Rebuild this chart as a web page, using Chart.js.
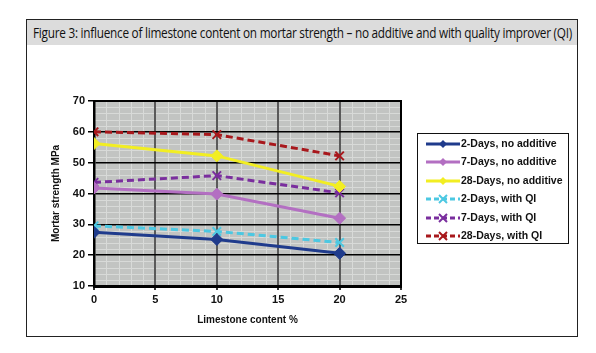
<!DOCTYPE html>
<html><head><meta charset="utf-8">
<script src="https://cdn.jsdelivr.net/npm/chart.js@4.4.1/dist/chart.umd.min.js"></script>
<style>
html,body{margin:0;padding:0;background:#fff;width:596px;height:353px;overflow:hidden}
#wrap{position:relative;width:596px;height:353px}
#c{position:absolute;left:0;top:0}
#frame{position:absolute;left:26px;top:19px;width:552px;height:318px;border:1.5px solid #222;box-sizing:border-box;pointer-events:none}
#title{position:absolute;left:0;top:0;right:0;height:25px;background:#dcdcdc;overflow:visible;white-space:nowrap}
#title span{position:absolute;left:6px;top:3px;font-family:"Open Sans","Liberation Sans",sans-serif;font-size:14px;font-weight:500;color:#111;transform-origin:0 50%;letter-spacing:-0.3px}
#legend{position:absolute;left:417px;top:133px;width:152px;height:111px;border:1px solid #111;box-sizing:border-box;padding-top:1px}
.row{position:relative;height:18.4px}
.row svg{position:absolute;left:8px;top:4px}
.row span{position:absolute;left:43px;top:2px;font-family:"Liberation Sans",Arial,sans-serif;font-weight:bold;font-size:10.5px;color:#111;white-space:nowrap}
</style></head>
<body><div id="wrap">
<canvas id="c" width="596" height="353"></canvas>
<div id="frame"><div id="title"><span id="tt">Figure 3: influence of limestone content on mortar strength – no additive and with quality improver (QI)</span></div></div>
<div id="legend"></div>
</div>
<script>
// Data
const limestone = [0, 10, 20];
const seriesNames = ["2-Days, no additive","7-Days, no additive","28-Days, no additive","2-Days, with QI","7-Days, with QI","28-Days, with QI"];
const days2NoAdd  = [27.4, 25.1, 20.6];
const days7NoAdd  = [41.8, 39.8, 32.0];
const days28NoAdd = [56.2, 52.2, 42.3];
const days2QI     = [29.5, 27.7, 24.1];
const days7QI     = [43.6, 45.8, 40.2];
const days28QI    = [60.0, 59.1, 52.2];
const xTickLabels = [0, 5, 10, 15, 20, 25];
const yTickLabels = [10, 20, 30, 40, 50, 60, 70];

const seriesValues = [days2NoAdd, days7NoAdd, days28NoAdd, days2QI, days7QI, days28QI];
const colors = ["#1f3b8c", "#b36fc2", "#f2ee22", "#4cc8e2", "#7a2e9e", "#a8181c"];
const dashed = [false, false, false, true, true, true];

const datasets = seriesNames.map((name, i) => ({
  label: name,
  data: limestone.map((x, j) => ({x: x, y: seriesValues[i][j]})),
  borderColor: colors[i],
  backgroundColor: colors[i],
  borderWidth: 3,
  borderDash: dashed[i] ? [7, 4] : [],
  pointStyle: dashed[i] ? 'crossRot' : 'rectRot',
  pointRadius: 6,
  pointBorderWidth: dashed[i] ? 2 : 1,
  pointHoverRadius: 6,
  tension: 0,
  fill: false
}));

// background and fine (minor) grid, drawn through the library's scales
const bgPlugin = {
  id: 'bg',
  beforeDraw(chart) {
    const {ctx, chartArea: a, scales} = chart;
    ctx.save();
    ctx.fillStyle = '#c2c4c2';
    ctx.fillRect(a.left, a.top, a.right - a.left, a.bottom - a.top);
    ctx.strokeStyle = '#d8dad8';
    ctx.lineWidth = 1;
    ctx.beginPath();
    for (let v = 1; v < 25; v++) {
      if (v % 5 === 0) continue;
      const x = Math.round(scales.x.getPixelForValue(v)) + 0.5;
      ctx.moveTo(x, a.top); ctx.lineTo(x, a.bottom);
    }
    for (let v = 12; v < 70; v += 2) {
      if (v % 10 === 0) continue;
      const y = Math.round(scales.y.getPixelForValue(v)) + 0.5;
      ctx.moveTo(a.left, y); ctx.lineTo(a.right, y);
    }
    ctx.stroke();
    ctx.restore();
  }
};
const plotBorder = {
  id: 'pb',
  beforeDatasetsDraw(chart) {
    const {ctx, chartArea: a} = chart;
    ctx.save();
    ctx.strokeStyle = '#000';
    ctx.lineWidth = 2;
    ctx.beginPath();
    ctx.moveTo(a.left, a.top); ctx.lineTo(a.right, a.top); ctx.lineTo(a.right, a.bottom);
    ctx.stroke();
    ctx.restore();
  }
};

const tickFont = {family: '"Liberation Sans",Arial', size: 11, weight: 'bold'};
const titleFont = {family: '"Liberation Sans",Arial', size: 10, weight: 'bold'};

new Chart(document.getElementById('c'), {
  type: 'line',
  data: {datasets},
  options: {
    responsive: false,
    animation: false,
    events: [],
    layout: {padding: {left: 50, right: 195, top: 101, bottom: 27}},
    plugins: {legend: {display: false}, tooltip: {enabled: false}},
    scales: {
      x: {
        type: 'linear', min: 0, max: 25,
        afterFit: s => { s.height = 40; },
        ticks: {stepSize: 5, autoSkip: false, maxRotation: 0, padding: 3, color: '#111', font: tickFont,
          callback: v => xTickLabels.includes(v) ? String(v) : ''},
        grid: {
          color: c => c.tick && c.tick.value === 25 ? '#000' : '#5a5a5a',
          lineWidth: 2,
          tickColor: '#333',
          tickLength: 4
        },
        border: {color: '#000', width: 3},
        title: {display: true, text: 'Limestone content %', color: '#111', font: titleFont, padding: {top: 4, bottom: 0}}
      },
      y: {
        min: 10, max: 70,
        afterFit: s => { s.width = 44; },
        ticks: {stepSize: 10, autoSkip: false, padding: 3, color: '#111', font: tickFont,
          callback: v => yTickLabels.includes(v) ? String(v) : ''},
        grid: {
          color: '#000',
          lineWidth: 1.5,
          tickColor: '#000',
          tickLength: 6
        },
        border: {color: '#000', width: 2.5},
        title: {display: true, text: 'Mortar strength MPa', color: '#111', font: titleFont, padding: {top: 0, bottom: 0}}
      }
    }
  },
  plugins: [bgPlugin, plotBorder]
});

// HTML legend built from the datasets
const leg = document.getElementById('legend');
datasets.forEach(ds => {
  const row = document.createElement('div');
  row.className = 'row';
  const c = ds.borderColor;
  const dash = ds.borderDash.length ? `stroke-dasharray="5,3"` : '';
  let marker;
  if (ds.pointStyle === 'rectRot') {
    marker = `<polygon points="17,1 21,5 17,9 13,5" fill="${c}"/>`;
  } else {
    marker = `<line x1="13" y1="1" x2="21" y2="9" stroke="${c}" stroke-width="2"/><line x1="21" y1="1" x2="13" y2="9" stroke="${c}" stroke-width="2"/>`;
  }
  row.innerHTML = `<svg width="34" height="10"><line x1="0" y1="5" x2="34" y2="5" stroke="${c}" stroke-width="3" ${dash}/>${marker}</svg><span>${ds.label}</span>`;
  leg.appendChild(row);
});

// fit title text width
const tt = document.getElementById('tt');
const w = tt.getBoundingClientRect().width;
tt.style.transform = `scaleX(${539 / w})`;
</script>
</body></html>
